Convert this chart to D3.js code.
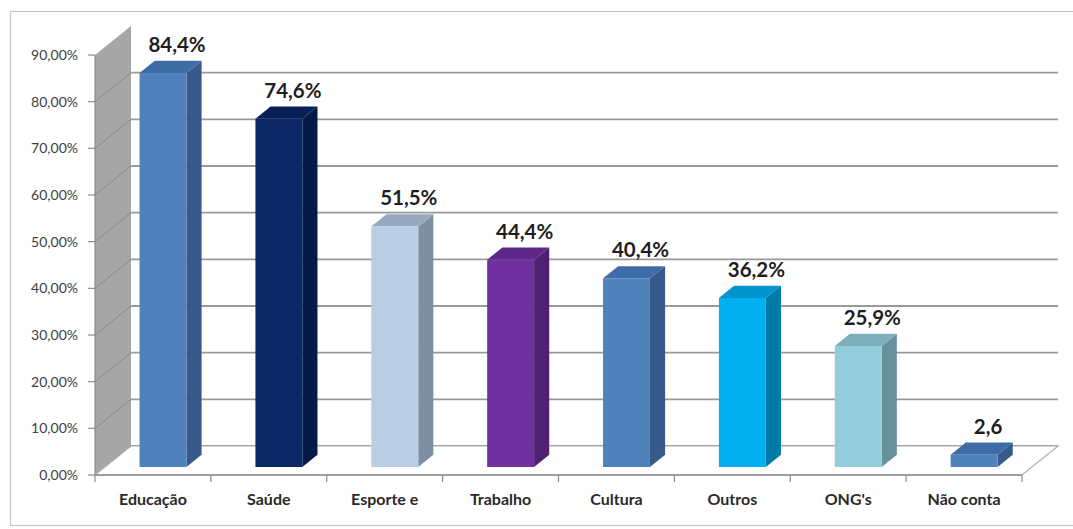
<!DOCTYPE html>
<html>
<head>
<meta charset="utf-8">
<script src="https://cdn.jsdelivr.net/npm/d3@7"></script>
<style>
  html, body { margin: 0; padding: 0; background: #fff; }
  svg { display: block; }
  text { font-family: Lato, "Open Sans", "DejaVu Sans", sans-serif; }
</style>
</head>
<body>
<svg id="chart" width="1073" height="529"></svg>
<script>
// Áreas de atuação (percentual de respostas)
const categories = ["Educação", "Saúde", "Esporte e", "Trabalho", "Cultura", "Outros", "ONG's", "Não conta"];
const values = [84.4, 74.6, 51.5, 44.4, 40.4, 36.2, 25.9, 2.6];
const valueLabels = ["84,4%", "74,6%", "51,5%", "44,4%", "40,4%", "36,2%", "25,9%", "2,6"];
const yTicks = [0, 10, 20, 30, 40, 50, 60, 70, 80, 90];
const yTickLabels = ["0,00%", "10,00%", "20,00%", "30,00%", "40,00%", "50,00%", "60,00%", "70,00%", "80,00%", "90,00%"];
const frontColors = ["#4F81BD", "#0B2766", "#B9CDE5", "#7030A0", "#4F81BD", "#00B0F0", "#93CDDD", "#4F81BD"];
const sideColors  = ["#375A8A", "#061A48", "#7D8FA4", "#4D2270", "#375A8A", "#007BA8", "#66919C", "#375A8A"];
const topColors   = ["#3F6CA6", "#082058", "#97A9BE", "#5E288A", "#3F6CA6", "#0095CC", "#7DAFBD", "#3F6CA6"];

const svg = d3.select("#chart");

// Perspective depth of the plot box
const DX = 36, DY = -29;
const x0 = 95, x1 = 1022;

const y = d3.scaleLinear().domain([0, 90]).range([475, 55]);
const x = d3.scaleBand().domain(categories).range([x0, x1]).paddingInner(0).paddingOuter(0);

// project (px, value, depth 0..1) onto screen
const P = (px, v, d) => [px + d * DX, y(v) + d * DY];
const poly = pts => pts.map(p => p.join(",")).join(" ");

// Outer chart frame
svg.append("rect")
  .attr("x", 10.5).attr("y", 11.5).attr("width", 1075).attr("height", 514)
  .attr("fill", "#fff").attr("stroke", "#c8c8c8").attr("stroke-width", 1.2);

// Left side wall
svg.append("polygon")
  .attr("points", poly([P(x0, 0, 0), P(x0, 90, 0), P(x0, 90, 1), P(x0, 0, 1)]))
  .attr("fill", "#A6A6A6");

// Wall lines at each tick
svg.append("g").selectAll("line").data(yTicks.slice(0, -1)).join("line")
  .attr("x1", d => P(x0, d, 0)[0]).attr("y1", d => P(x0, d, 0)[1])
  .attr("x2", d => P(x0, d, 1)[0]).attr("y2", d => P(x0, d, 1)[1])
  .attr("stroke", "#8a8a8a").attr("stroke-width", 1);

// Back wall gridlines
svg.append("g").selectAll("line").data(yTicks.slice(0, -1)).join("line")
  .attr("x1", d => P(x0, d, 1)[0]).attr("y1", d => P(x0, d, 1)[1])
  .attr("x2", d => P(x1, d, 1)[0]).attr("y2", d => P(x1, d, 1)[1])
  .attr("stroke", "#999999").attr("stroke-width", 1.8);

// Floor
svg.append("polygon")
  .attr("points", poly([P(x0, 0, 0), P(x1, 0, 0), P(x1, 0, 1), P(x0, 0, 1)]))
  .attr("fill", "#fff").attr("stroke", "#b0b0b0").attr("stroke-width", 1.2);

// Front category axis
svg.append("line")
  .attr("x1", x0).attr("y1", y(0)).attr("x2", x1).attr("y2", y(0))
  .attr("stroke", "#8c8c8c").attr("stroke-width", 1.4);
svg.append("g").selectAll("line").data(d3.range(categories.length + 1)).join("line")
  .attr("x1", i => x0 + i * x.step()).attr("x2", i => x0 + i * x.step())
  .attr("y1", y(0)).attr("y2", y(0) + 7)
  .attr("stroke", "#8c8c8c").attr("stroke-width", 1.2);

// Value axis ticks and labels
svg.append("g").selectAll("line").data(yTicks).join("line")
  .attr("x1", x0 - 7).attr("x2", x0).attr("y1", d => y(d)).attr("y2", d => y(d))
  .attr("stroke", "#8c8c8c").attr("stroke-width", 1.2);
svg.append("line")
  .attr("x1", x0).attr("x2", x0).attr("y1", y(0)).attr("y2", y(90))
  .attr("stroke", "#8c8c8c").attr("stroke-width", 1.2);
svg.append("g").selectAll("text").data(yTicks).join("text")
  .attr("x", x0 - 17).attr("y", d => y(d) + 5)
  .attr("text-anchor", "end")
  .attr("font-size", 14).attr("fill", "#404040")
  .text((d, i) => yTickLabels[i]);

// Bars (front, side, top faces)
const dFront = 0.28, dBack = 0.70;
const barW = x.bandwidth() * 0.405;
const bars = svg.append("g").selectAll("g").data(categories).join("g");
const left = c => x(c) + x.bandwidth() / 2 - barW / 2;

bars.append("polygon")
  .attr("points", (c, i) => poly([P(left(c) + barW, 0, dFront), P(left(c) + barW, values[i], dFront),
                                  P(left(c) + barW, values[i], dBack), P(left(c) + barW, 0, dBack)]))
  .attr("fill", (c, i) => sideColors[i]);
bars.append("polygon")
  .attr("points", (c, i) => poly([P(left(c), values[i], dFront), P(left(c) + barW, values[i], dFront),
                                  P(left(c) + barW, values[i], dBack), P(left(c), values[i], dBack)]))
  .attr("fill", (c, i) => topColors[i]);
bars.append("polygon")
  .attr("points", (c, i) => poly([P(left(c), 0, dFront), P(left(c), values[i], dFront),
                                  P(left(c) + barW, values[i], dFront), P(left(c) + barW, 0, dFront)]))
  .attr("fill", (c, i) => frontColors[i]);

// Value labels above each bar
bars.append("text")
  .attr("x", c => P(left(c) + barW / 2, 0, dFront)[0] + 14)
  .attr("y", (c, i) => P(0, values[i], dBack)[1] - 9)
  .attr("text-anchor", "middle")
  .attr("font-size", 20.5).attr("font-weight", "bold").attr("fill", "#1e1e1e")
  .text((c, i) => valueLabels[i]);

// Category labels
svg.append("g").selectAll("text").data(categories).join("text")
  .attr("x", c => x(c) + x.bandwidth() / 2)
  .attr("y", 505)
  .attr("text-anchor", "middle")
  .attr("font-size", 16).attr("font-weight", "bold").attr("fill", "#2a2a2a")
  .text(c => c);
</script>
</body>
</html>
